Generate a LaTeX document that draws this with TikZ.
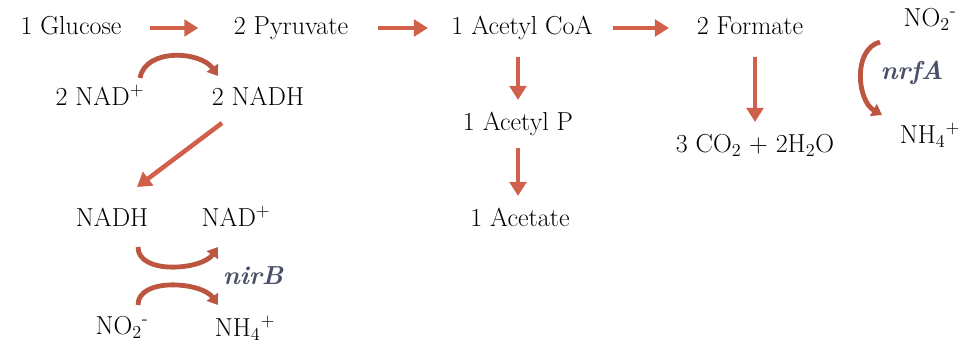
\documentclass[tikz,border=0pt]{standalone}
\usetikzlibrary{arrows.meta}
\definecolor{arrowred}{RGB}{208,96,74}
\definecolor{curvered}{RGB}{188,86,64}
\definecolor{genecol}{RGB}{74,80,104}

\begin{document}
\begin{tikzpicture}[x=0.75pt,y=0.75pt,
    semithick,
    chem/.style={inner sep=0pt, text height=13.5pt, text depth=4pt,
      font=\fontsize{19.5}{23}\selectfont},
    gene/.style={inner sep=0pt, text=genecol,
      font=\fontsize{19.5}{23}\selectfont\bfseries\itshape},
    react/.style={draw=arrowred, line width=3.4pt,
      -{Triangle[length=10.5pt,width=12.5pt]}},
    cycle/.style={draw=curvered, line width=3.6pt,
      -{Triangle[length=7.5pt,width=10pt]}}
    ]
\useasboundingbox (0,0) rectangle (965,-354);

% main pathway
\node[chem, minimum width=84pt]   (glc)   at (71,-28)  {1 Glucose};
\node[chem, minimum width=94.5pt] (pyr)   at (291,-28) {2 Pyruvate};
\node[chem, minimum width=112.5pt] (accoa) at (522,-28) {1 Acetyl CoA};
\node[chem, minimum width=94pt]   (form)  at (750,-28) {2 Formate};
\node[chem, minimum width=88pt]   (acp)   at (518,-124) {1 Acetyl P};
\node[chem, minimum width=79pt]   (ace)   at (520,-220) {1 Acetate};
\node[chem, minimum width=127.5pt] (co2)  at (755,-146) {3 CO\textsubscript{2} + 2H\textsubscript{2}O};

% cofactors
\node[chem, minimum width=71pt] (nad1)  at (100,-99)  {2 NAD\textsuperscript{+}};
\node[chem, minimum width=75pt] (nadh1) at (258,-99)  {2 NADH};
\node[chem, minimum width=59pt] (nadh2) at (112,-220) {NADH};
\node[chem, minimum width=50pt] (nad2)  at (236,-220) {NAD\textsuperscript{+}};

% nitrite reduction
\node[chem, minimum width=45pt]   (no2a) at (930,-20)  {NO\textsubscript{2}\textsuperscript{-}};
\node[chem, minimum width=49pt]   (nh4a) at (930,-137) {NH\textsubscript{4}\textsuperscript{+}};
\node[chem, minimum width=46.5pt] (no2b) at (122,-328) {NO\textsubscript{2}\textsuperscript{-}};
\node[chem, minimum width=49pt]   (nh4b) at (245,-330) {NH\textsubscript{4}\textsuperscript{+}};
\node[gene] (nrfa) at (912,-73)  {nrfA};
\node[gene] (nirb) at (253,-276) {nirB};

\draw[react, shorten <=17pt, shorten >=22pt] (glc) -- (pyr);
\draw[react, shorten <=18pt, shorten >=14pt] (pyr) -- (accoa);
\draw[react, shorten <=12pt, shorten >=13.5pt] (accoa) -- (form);
\draw[react, shorten <=13pt, shorten >=9pt] (acp |- accoa.south) -- (acp.north);
\draw[react, shorten <=9pt, shorten >=9pt] (acp.south) -- (acp |- ace.north);
\draw[react, shorten <=13pt, shorten >=9pt] (co2 |- form.south) -- (co2.north);
\draw[react] ([shift={(-36,-24)}]nadh1.center) -- ([shift={(25,33)}]nadh2.center);

\draw[cycle] ([shift={(40,21)}]nad1.center) to[out=80,in=125,looseness=1] ([shift={(-40,23)}]nadh1.center);
\draw[cycle] ([shift={(-50,-22)}]no2a.center) to[out=195,in=150,looseness=1] ([shift={(-48,22)}]nh4a.center);
\draw[cycle] ([shift={(26,-27)}]nadh2.center) to[out=-90,in=-125,looseness=0.9] ([shift={(-18,-27)}]nad2.center);
\draw[cycle] ([shift={(16,23)}]no2b.center) to[out=90,in=125,looseness=0.9] ([shift={(-27,25)}]nh4b.center);
\end{tikzpicture}
\end{document}
